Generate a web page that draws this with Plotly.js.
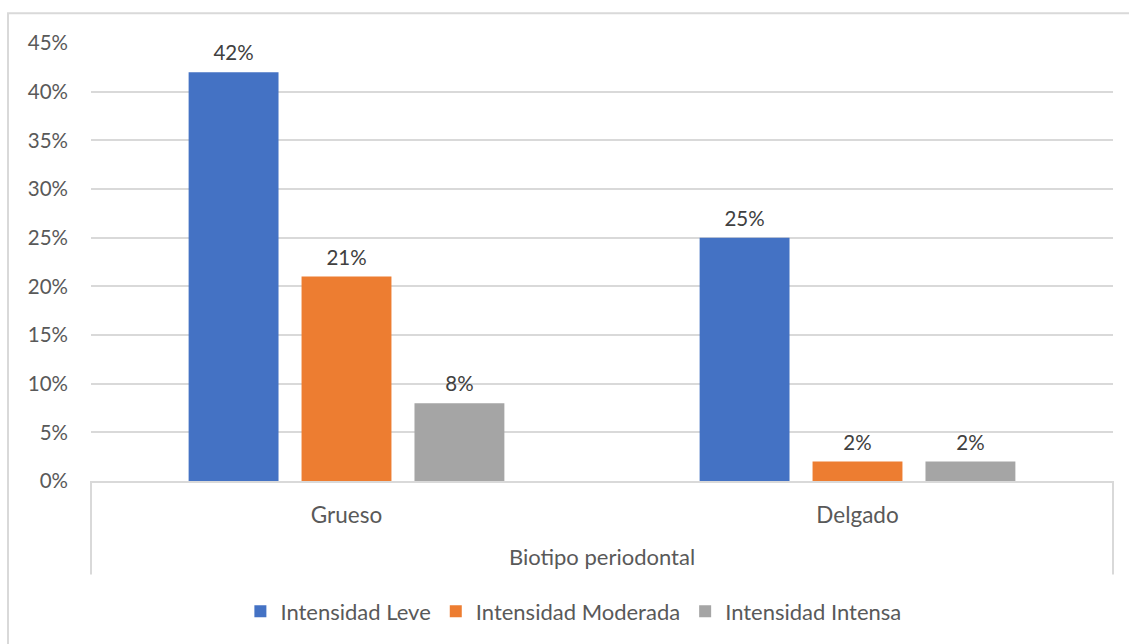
<!DOCTYPE html>
<html>
<head>
<meta charset="utf-8">
<script src="https://cdn.plot.ly/plotly-3.0.1.min.js"></script>
<style>html,body{margin:0;padding:0;background:#fff;}#chart{width:1129px;height:644px;}</style>
</head>
<body>
<div id="chart"></div>
<script>
var categories = ["Grueso", "Delgado"];
var seriesNames = ["Intensidad Leve", "Intensidad Moderada", "Intensidad Intensa"];
var leve = [0.42, 0.25];
var moderada = [0.21, 0.02];
var intensa = [0.08, 0.02];
var yTicks = [0, 0.05, 0.10, 0.15, 0.20, 0.25, 0.30, 0.35, 0.40, 0.45];
var axisTitle = "Biotipo periodontal";

var colors = ["#4472C4", "#ED7D31", "#A5A5A5"];
var seriesValues = [leve, moderada, intensa];
var font = "Lato, 'Open Sans', sans-serif";

var traces = seriesValues.map(function (vals, i) {
  return {
    type: "bar",
    name: seriesNames[i],
    x: categories,
    y: vals,
    marker: {color: colors[i]},
    text: vals.map(function (v) {
      return "<span style='font-size:20.5px'>" + Math.round(v * 100) + "%</span><br> ";
    }),
    textposition: "outside",
    constraintext: "none",
    cliponaxis: false,
    textfont: {family: font, size: 6, color: "#404040"},
    hoverinfo: "skip"
  };
});

var layout = {
  width: 1129, height: 644,
  margin: {l: 91, r: 16, t: 43, b: 161},
  paper_bgcolor: "#fff", plot_bgcolor: "#fff",
  barmode: "group",
  bargap: 0.337,
  bargroupgap: 0.204,
  font: {family: font, color: "#595959", size: 20},
  xaxis: {
    showgrid: false, zeroline: false,
    showline: true, linecolor: "#d9d9d9", linewidth: 2,
    ticks: "", ticklabelstandoff: 13,
    tickfont: {family: font, size: 22.5, color: "#595959"},
    title: {text: axisTitle, standoff: 23, font: {family: font, size: 22, color: "#595959"}},
    automargin: false
  },
  yaxis: {
    range: [0, 0.45],
    tickvals: yTicks,
    tickformat: ".0%",
    showgrid: true, gridcolor: "#d9d9d9", gridwidth: 2,
    zeroline: false, showline: false,
    ticks: "", ticklabelstandoff: 22,
    tickfont: {family: font, size: 20.5, color: "#595959"},
    automargin: false
  },
  showlegend: true,
  legend: {
    orientation: "h",
    x: 0.472, xanchor: "center",
    y: -0.298, yanchor: "middle",
    font: {family: font, size: 22, color: "#595959"},
    itemwidth: 30,
    traceorder: "normal"
  },
  shapes: [
    {type: "line", xref: "paper", yref: "paper", x0: 0, x1: 0, y0: 0, y1: -0.2136, line: {color: "#d9d9d9", width: 2}},
    {type: "line", xref: "paper", yref: "paper", x0: 1, x1: 1, y0: 0, y1: -0.2136, line: {color: "#d9d9d9", width: 2}},
    {type: "rect", xref: "paper", yref: "paper", x0: -0.0812, x1: 1.03, y0: 1.068, y1: -0.4, line: {color: "#d9d9d9", width: 2}, fillcolor: "rgba(0,0,0,0)", layer: "below"}
  ]
};

Plotly.newPlot("chart", traces, layout, {displayModeBar: false, staticPlot: true});
</script>
</body>
</html>
